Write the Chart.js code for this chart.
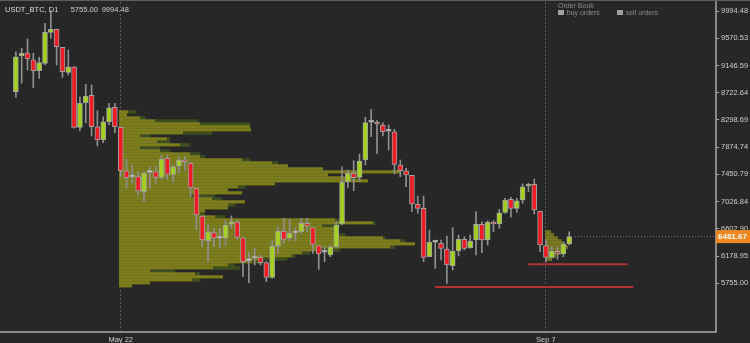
<!DOCTYPE html>
<html>
<head>
<meta charset="utf-8">
<script src="https://cdn.jsdelivr.net/npm/chart.js@4.4.0/dist/chart.umd.min.js"></script>
<style>
    html, body { margin: 0; padding: 0; background: #272727; }
    #wrap { position: relative; width: 750px; height: 343px; overflow: hidden; }
    #wrap canvas { position: absolute; left: 0; top: 0; }
    .txt { position: absolute; white-space: nowrap; font-family: 'Liberation Sans', Arial, sans-serif; line-height: 1; }
    .sq { position: absolute; width: 6px; height: 5px; background: #a0a0a0; }
</style>
</head>
<body>
<div id="wrap">
    <canvas id="btcChart" width="750" height="343"></canvas>
    <div class="txt" style="left:5px; top:6.4px; font-size:7.5px; color:#dcdcdc;">USDT_BTC, D1</div>
    <div class="txt" style="left:70.7px; top:6.4px; font-size:7.5px; color:#d0d0d0;">5755.00</div>
    <div class="txt" style="left:101.7px; top:6.4px; font-size:7.5px; color:#d0d0d0;">9994.48</div>
    <div class="txt" style="left:558px; top:2.1px; font-size:7px; color:#8c8c8c;">Order Book</div>
    <div class="sq" style="left:558px; top:10px;"></div>
    <div class="txt" style="left:566.7px; top:9.1px; font-size:7px; color:#8c8c8c;">buy orders</div>
    <div class="sq" style="left:617px; top:10px;"></div>
    <div class="txt" style="left:625.7px; top:9.1px; font-size:7px; color:#8c8c8c;">sell orders</div>
</div>
<script>
// Daily candles, one slot each
const openP = [8738, 9299, 9345, 9236, 9065, 9180, 9663, 9710, 9430, 9040,
    9127, 8184, 8567, 8682, 8193, 7986, 8271, 8495, 8184, 7508,
    7413, 7415, 7181, 7483, 7493, 7405, 7701, 7452, 7581, 7675,
    7623, 7234, 6803, 6418, 6543, 6457, 6456, 6674, 6709, 6465,
    6108, 6149, 6160, 6076, 5848, 6341, 6569, 6456, 6541, 6558,
    6689, 6621, 6341, 6239, 6196, 6325, 6678, 7337, 7468, 7405,
    7675, 8263, 8262, 8220, 8122, 8115, 7597, 7508, 7437, 6985,
    6923, 6169, 6395, 6378, 6289, 6029, 6263, 6440, 6309, 6429,
    6674, 6429, 6705, 6678, 6860, 7063, 6923, 7052, 7270, 7296,
    6881, 6341, 6160, 6247, 6211, 6367];
const highP = [9361, 9414, 9559, 9336, 9274, 9803, 9994.48, 9710, 9430, 9388,
    9127, 8660, 8853, 8843, 8442, 8349, 8558, 8558, 8184, 7686,
    7597, 7493, 7493, 7570, 7570, 7753, 7753, 7597, 7726, 7726,
    7640, 7234, 6803, 6663, 6611, 6611, 6730, 6803, 6741, 6465,
    6247, 6300, 6196, 6091, 6414, 6636, 6767, 6751, 6621, 6767,
    6767, 6621, 6341, 6325, 6351, 6714, 7570, 7519, 7664, 7768,
    8340, 8464, 8287, 8256, 8220, 8153, 7675, 7546, 7437, 7114,
    7114, 6585, 6429, 6429, 6491, 6621, 6507, 6481, 6507, 6870,
    6714, 6730, 6730, 6907, 7078, 7094, 7078, 7301, 7312, 7379,
    6881, 6429, 6325, 6325, 6403, 6558];
const lowP = [8651, 8869, 9076, 8800, 8947, 9154, 9570, 9154, 8962, 8998,
    8170, 8126, 8256, 8049, 7893, 7944, 8220, 8100, 7415, 7234,
    7312, 7130, 7025, 7234, 7312, 7374, 7374, 7337, 7468, 7519,
    7103, 6585, 6325, 6091, 6325, 6300, 6351, 6611, 6440, 5858,
    5765, 6040, 6040, 5780, 5833, 6222, 6378, 6418, 6418, 6533,
    6558, 6222, 5973, 6091, 6169, 6300, 6663, 7250, 7197, 7337,
    7597, 8038, 7779, 8049, 7831, 7457, 7415, 7259, 6870, 6845,
    6091, 6169, 5989, 6118, 5755, 5962, 6180, 6274, 6300, 6196,
    6231, 6351, 6558, 6611, 6845, 6783, 6860, 7001, 7181, 6834,
    6247, 6091, 6144, 6129, 6169, 6351];
const closeP = [9283, 9336, 9247, 9065, 9190, 9663, 9710, 9439, 9050, 9127,
    8184, 8558, 8671, 8193, 7986, 8271, 8489, 8193, 7508, 7399,
    7413, 7192, 7468, 7483, 7405, 7690, 7452, 7570, 7675, 7648,
    7243, 6818, 6429, 6558, 6456, 6457, 6663, 6714, 6471, 6091,
    6108, 6149, 6076, 5848, 6336, 6569, 6440, 6533, 6541, 6689,
    6647, 6362, 6211, 6239, 6325, 6663, 7328, 7468, 7399, 7659,
    8256, 8263, 8231, 8115, 8122, 7608, 7508, 7441, 6990, 6923,
    6160, 6393, 6395, 6300, 6040, 6258, 6445, 6300, 6414, 6674,
    6429, 6705, 6678, 6854, 7052, 6923, 7041, 7259, 7296, 6896,
    6351, 6160, 6258, 6222, 6367, 6481.67];

// Date labels on the time axis (slot of the candle)
const dateSlots = [18, 91];
const dateNames = ['May 22', 'Sep 7'];

// Price axis ticks
const priceTicks = [9994.48, 9570.53, 9146.59, 8722.64, 8298.69, 7874.74,
    7450.79, 7026.84, 6602.90, 6178.95, 5755.00];

// Support lines drawn by hand on the chart
const supportLevels = [6051, 5697];
const supportFrom = [88, 72];
const supportTo = [105, 106];

// Volume profile, rows from the top price level down
const profileTopLevel = 8422;
const profileStep = 46.71;
const profileBuy = [9, 8, 21, 36, 81, 131, 132, 64, 21, 48,
    38, 61, 21, 41, 71, 81, 123, 153, 169, 204,
    281, 209, 233, 249, 156, 119, 109, 123, 71, 93,
    126, 109, 109, 86, 81, 96, 216, 254, 203, 219,
    214, 219, 264, 281, 296, 271, 198, 183, 173, 143,
    133, 109, 94, 31, 76, 104, 73, 31, 13];
const profileSell = [8, 0, 5, 43, 50, 0, 0, 29, 10, 3,
    13, 10, 20, 10, 10, 5, 8, 6, 0, 0,
    0, 0, 8, 0, 0, 7, 0, 0, 25, 10,
    0, 7, 0, 0, 5, 10, 10, 2, 18, 0,
    5, 7, 2, 5, 0, 5, 23, 8, 3, 25,
    10, 7, 27, 25, 5, 0, 8, 0, 0];
// Small profile at Sep 7, starting on row 40
const miniFirstRow = 40;
const miniProfile = [5, 8, 12, 16, 19, 22, 20, 15, 10, 6];

// Colours
const upColor = '#a4d11d';
const downColor = '#ef1c24';
const dojiColor = '#e0e0e0';

// Axis ranges
const slotMin = -2.55;
const slotMax = 120.2;
const priceMin = 4997;
const priceMax = 10135;
const volPerSlot = 5.825;

// Build the candle pieces
const wickData = openP.map((o, i) => ({ x: i, y: [lowP[i], highP[i]] }));
const bodyData = openP.map((o, i) => ({ x: i, y: [o, closeP[i]] }));
const bodyColors = openP.map((o, i) => closeP[i] > o ? upColor : (closeP[i] < o ? downColor : dojiColor));

// Build the profile rows
const profileStart = dateSlots[0] - 0.3;
const buyRows = profileBuy.map((v, i) => ({
    x: [profileStart, profileStart + v / volPerSlot],
    y: profileTopLevel - i * profileStep
}));
const sellRows = [];
profileSell.forEach((v, i) => {
    if (v > 0) {
        const from = profileStart + profileBuy[i] / volPerSlot;
        sellRows.push({ x: [from, from + v / volPerSlot], y: profileTopLevel - i * profileStep });
    }
});
const miniStart = dateSlots[1] - 0.05;
const miniRows = miniProfile.map((v, i) => ({
    x: [miniStart, miniStart + v / volPerSlot],
    y: profileTopLevel - (miniFirstRow + i) * profileStep
}));

// Lines
const lastClose = closeP[closeP.length - 1];
const supportSets = supportLevels.map((lvl, i) => ({
    type: 'line',
    data: [{ x: supportFrom[i], y: lvl }, { x: supportTo[i], y: lvl }],
    borderColor: '#b23232',
    borderWidth: 2,
    pointRadius: 0,
    order: 3
}));

// Background and top border
const darkBackground = {
    id: 'darkBackground',
    beforeDraw(chart) {
        const c = chart.ctx;
        c.save();
        c.fillStyle = '#272727';
        c.fillRect(0, 0, chart.width, chart.height);
        c.fillStyle = '#5e5e5e';
        c.fillRect(0, 0, chart.width, 1);
        c.restore();
    }
};

// Orange tag with the last price on the price axis
const lastPriceTag = {
    id: 'lastPriceTag',
    afterDraw(chart) {
        const c = chart.ctx;
        const yScale = chart.scales.y;
        const py = yScale.getPixelForValue(lastClose);
        c.save();
        c.fillStyle = '#f0861e';
        c.fillRect(yScale.left, py - 6.5, chart.width - yScale.left, 13);
        c.fillStyle = '#ffffff';
        c.font = 'bold 8px "Liberation Sans", Arial, sans-serif';
        c.textBaseline = 'middle';
        c.textAlign = 'left';
        c.fillText(lastClose.toFixed(2), yScale.left + 2, py + 0.5);
        c.restore();
    }
};

// Shared bar settings: one bar per slot / row, no grouping
const barBase = {
    grouped: false,
    barPercentage: 1,
    categoryPercentage: 1
};

const ctx = document.getElementById('btcChart').getContext('2d');

const btcChart = new Chart(ctx, {
    type: 'bar',
    data: {
        datasets: [
            {
                ...barBase,
                indexAxis: 'y',
                xAxisID: 'xp',
                yAxisID: 'yp',
                data: buyRows,
                backgroundColor: '#7e7e17',
                borderColor: '#96962a',
                borderWidth: { top: 1, bottom: 0, left: 0, right: 0 },
                borderSkipped: false,
                maxBarThickness: 3,
                order: 6
            },
            {
                ...barBase,
                indexAxis: 'y',
                xAxisID: 'xp',
                yAxisID: 'yp',
                data: sellRows,
                backgroundColor: '#3d4d1f',
                maxBarThickness: 3,
                order: 6
            },
            {
                ...barBase,
                indexAxis: 'y',
                xAxisID: 'xp',
                yAxisID: 'yp',
                data: miniRows,
                backgroundColor: 'rgba(140, 140, 30, 0.75)',
                maxBarThickness: 3,
                order: 5
            },
            ...supportSets,
            {
                type: 'line',
                data: [{ x: openP.length, y: lastClose }, { x: slotMax, y: lastClose }],
                borderColor: '#777777',
                borderWidth: 1,
                borderDash: [1, 2],
                pointRadius: 0,
                order: 4
            },
            {
                ...barBase,
                data: wickData,
                backgroundColor: '#8f8f8f',
                maxBarThickness: 1,
                order: 2
            },
            {
                ...barBase,
                data: bodyData,
                backgroundColor: bodyColors,
                borderColor: '#a0a0a0',
                borderWidth: 1,
                borderSkipped: false,
                maxBarThickness: 5,
                minBarLength: 2,
                order: 1
            }
        ]
    },
    options: {
        responsive: false,
        animation: false,
        events: [],
        layout: { padding: { left: 1, top: 2, right: 0, bottom: 0 } },
        plugins: {
            legend: { display: false },
            tooltip: { enabled: false }
        },
        scales: {
            x: {
                type: 'linear',
                min: slotMin,
                max: slotMax,
                offset: false,
                afterBuildTicks: (scale) => {
                    scale.ticks = dateSlots.map(v => ({ value: v }));
                },
                afterFit: (scale) => {
                    scale.height = 11;
                    scale.paddingLeft = 0;
                    scale.paddingRight = 0;
                },
                ticks: {
                    autoSkip: false,
                    maxRotation: 0,
                    padding: 3,
                    color: '#cfcfcf',
                    font: { family: 'Liberation Sans', size: 7.5 },
                    callback: (value) => dateNames[dateSlots.indexOf(value)]
                },
                grid: {
                    offset: false,
                    drawTicks: false,
                    color: '#5a5a5a',
                    lineWidth: 1
                },
                border: { display: true, color: '#888888', width: 2, dash: [2, 2] }
            },
            y: {
                type: 'linear',
                position: 'right',
                offset: false,
                min: priceMin,
                max: priceMax,
                afterBuildTicks: (scale) => {
                    scale.ticks = priceTicks.map(v => ({ value: v }));
                },
                afterFit: (scale) => {
                    scale.width = 34;
                    scale.paddingTop = 0;
                    scale.paddingBottom = 0;
                },
                ticks: {
                    autoSkip: false,
                    padding: 2,
                    color: '#cfcfcf',
                    font: { family: 'Liberation Sans', size: 7.5 },
                    callback: (value) => value.toFixed(2)
                },
                grid: {
                    drawOnChartArea: false,
                    drawTicks: true,
                    tickLength: 3,
                    color: '#b0b0b0'
                },
                border: { display: true, color: '#888888', width: 2 }
            },
            // Hidden axes that carry the volume profile (same ranges as x / y)
            xp: { type: 'linear', display: false, offset: false, min: slotMin, max: slotMax },
            yp: { type: 'linear', display: false, offset: false, min: priceMin, max: priceMax }
        }
    },
    plugins: [darkBackground, lastPriceTag]
});
</script>
</body>
</html>
